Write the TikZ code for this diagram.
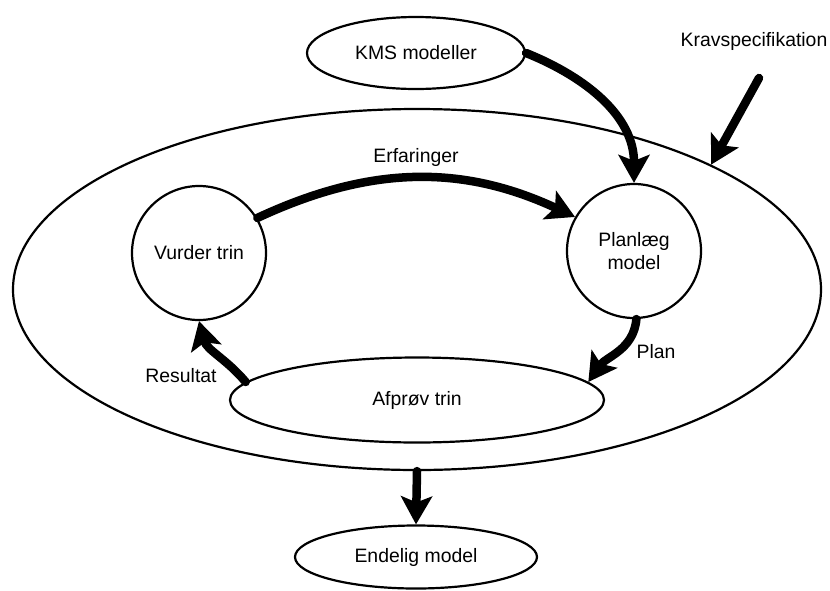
\documentclass[tikz,border=0pt]{standalone}
\usepackage{fontspec}
\setmainfont{Liberation Sans}
\usetikzlibrary{arrows.meta,shapes.geometric}
\begin{document}
\begin{tikzpicture}[x=1pt,y=1pt,
  outline/.style={draw=black, line width=2.2pt, inner sep=0pt},
  oval/.style={outline, ellipse},
  ring/.style={outline, circle},
  flow/.style={line width=8.5pt, line cap=round,
    -{Stealth[length=28pt,width=31pt,inset=6pt]}},
  lbl/.style={inner sep=0pt},
  font=\fontsize{19.4}{23}\selectfont]
\useasboundingbox (0,0) rectangle (830,-590);

% outer process boundary
\node[oval, minimum width=808, minimum height=361] (process) at (417,-289.5) {};

% stages
\node[oval, minimum width=218, minimum height=72] (kms) at (416,-53) {KMS modeller};
\node[ring, minimum size=134] (vurder) at (199,-253) {Vurder trin};
\node[ring, minimum size=134, align=center] (planlaeg) at (634,-251) {Planlæg\\model};
\node[oval, minimum width=374, minimum height=85] (afprov) at (417,-400) {Afprøv trin};
\node[oval, minimum width=242, minimum height=63] (endelig) at (416,-557) {Endelig model};

% external requirement
\node[lbl] (krav) at (754,-41) {Kravspecifikation};
\coordinate (kravtail) at (759,-78);

% connectors
\draw[flow] (kms.east) to[out=-22,in=90] (planlaeg.north);
\draw[flow] (kravtail) -- (process.23.8);
\draw[flow] (vurder.31) to[out=25,in=155] (planlaeg.150);
\draw[flow] (planlaeg.-88) to[out=-95,in=55] (afprov.6);
\draw[flow] (afprov.174.4) to[out=130,in=-75] (vurder.south);
\draw[flow] (process.south) -- (endelig.north);

% connector labels
\node[lbl] (erf) at (416,-157) {Erfaringer};
\node[lbl] (plan) at (656,-352) {Plan};
\node[lbl] (res) at (181,-376) {Resultat};
\end{tikzpicture}
\end{document}
